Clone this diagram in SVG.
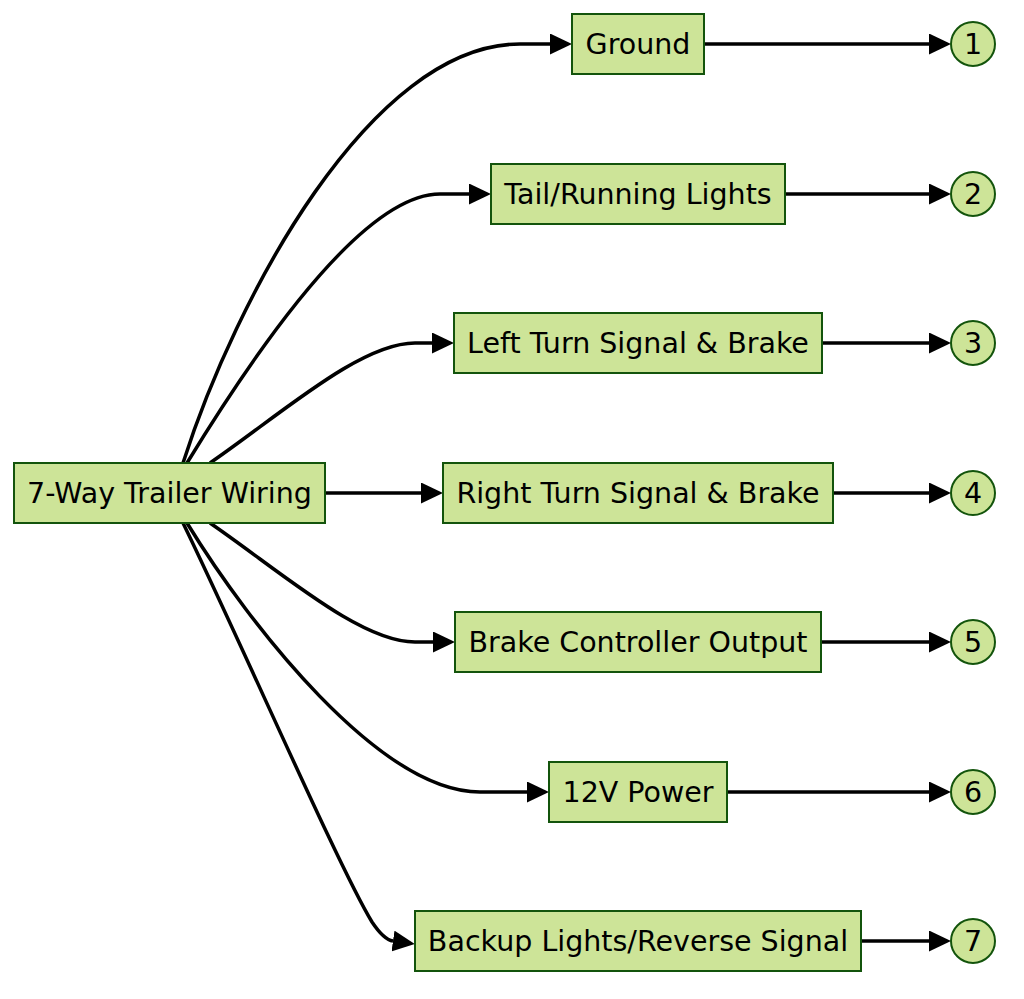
<svg xmlns="http://www.w3.org/2000/svg" width="1024" height="999" viewBox="0 0 1024 999">
<style>
.box{fill:#cde498;stroke:#13540c;stroke-width:2}
.lbl{font-family:"DejaVu Sans",sans-serif;font-size:28.5px;fill:#000;text-anchor:middle;dominant-baseline:central}
.edge{fill:none;stroke:#000;stroke-width:3.5}
</style>
<defs>
<marker id="arr" viewBox="0 0 22 21" refX="0" refY="10.5" markerWidth="22" markerHeight="21" markerUnits="userSpaceOnUse" orient="auto">
<path d="M0,0 L22,10.5 L0,21 Z" fill="#000"/>
</marker>
</defs>
<rect width="1024" height="999" fill="#fff"/>
<g id="connectors">
<path class="edge" marker-end="url(#arr)" d="M183,463 C235,300 370,44 520,44 L550,44"/>
<path class="edge" marker-end="url(#arr)" d="M187,463 C250,360 360,194 440,194 L469,194"/>
<path class="edge" marker-end="url(#arr)" d="M210,463 C280,415 360,343 415,343 L432,343"/>
<path class="edge" marker-end="url(#arr)" d="M325,493 L421,493"/>
<path class="edge" marker-end="url(#arr)" d="M210,523 C280,571 360,642 415,642 L433,642"/>
<path class="edge" marker-end="url(#arr)" d="M187,523 C250,626 380,792 480,792 L527,792"/>
<path class="edge" marker-end="url(#arr)" d="M183,523 C240,640 340,870 372,922 C380,934 386,940 393,941"/>
<path class="edge" marker-end="url(#arr)" d="M704,44 L929,44"/>
<path class="edge" marker-end="url(#arr)" d="M785,194 L929,194"/>
<path class="edge" marker-end="url(#arr)" d="M822,343 L929,343"/>
<path class="edge" marker-end="url(#arr)" d="M833,493 L929,493"/>
<path class="edge" marker-end="url(#arr)" d="M821,642 L929,642"/>
<path class="edge" marker-end="url(#arr)" d="M727,792 L929,792"/>
<path class="edge" marker-end="url(#arr)" d="M861,941 L929,941"/>
</g>
<g id="main"><rect class="box" x="14" y="463" width="311" height="60"/><text class="lbl" x="169.5" y="493">7-Way Trailer Wiring</text></g>
<g id="ground"><rect class="box" x="572" y="14" width="132" height="60"/><text class="lbl" x="638" y="44">Ground</text></g>
<g id="tail"><rect class="box" x="491" y="164" width="294" height="60"/><text class="lbl" x="638" y="194">Tail/Running Lights</text></g>
<g id="left"><rect class="box" x="454" y="313" width="368" height="60"/><text class="lbl" x="638" y="343">Left Turn Signal &amp; Brake</text></g>
<g id="right"><rect class="box" x="443" y="463" width="390" height="60"/><text class="lbl" x="638" y="493">Right Turn Signal &amp; Brake</text></g>
<g id="brake"><rect class="box" x="455" y="612" width="366" height="60"/><text class="lbl" x="638" y="642">Brake Controller Output</text></g>
<g id="power"><rect class="box" x="549" y="762" width="178" height="60"/><text class="lbl" x="638" y="792">12V Power</text></g>
<g id="backup"><rect class="box" x="415" y="911" width="446" height="60"/><text class="lbl" x="638" y="941">Backup Lights/Reverse Signal</text></g>
<g id="n1"><circle class="box" cx="973" cy="44" r="22"/><text class="lbl" x="973" y="44">1</text></g>
<g id="n2"><circle class="box" cx="973" cy="194" r="22"/><text class="lbl" x="973" y="194">2</text></g>
<g id="n3"><circle class="box" cx="973" cy="343" r="22"/><text class="lbl" x="973" y="343">3</text></g>
<g id="n4"><circle class="box" cx="973" cy="493" r="22"/><text class="lbl" x="973" y="493">4</text></g>
<g id="n5"><circle class="box" cx="973" cy="642" r="22"/><text class="lbl" x="973" y="642">5</text></g>
<g id="n6"><circle class="box" cx="973" cy="792" r="22"/><text class="lbl" x="973" y="792">6</text></g>
<g id="n7"><circle class="box" cx="973" cy="941" r="22"/><text class="lbl" x="973" y="941">7</text></g>
</svg>
